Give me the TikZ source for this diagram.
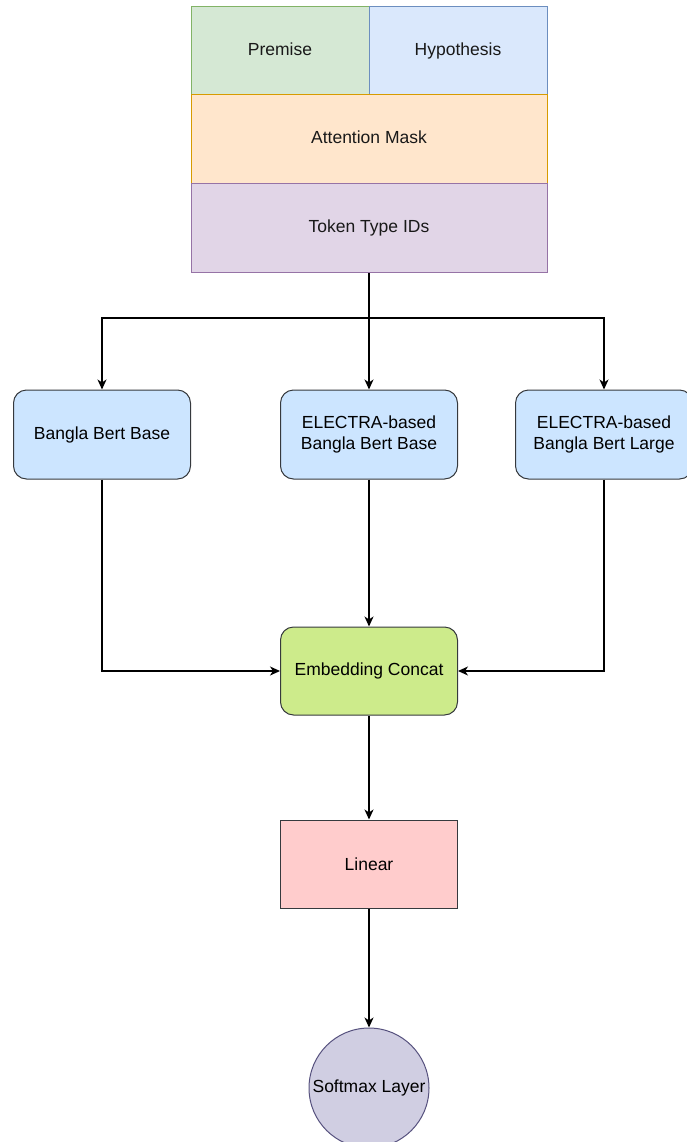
\documentclass[tikz,border=0pt]{standalone}
\usepackage{fontspec}
\setmainfont{Liberation Sans}
\usepackage{xcolor}
\usepackage{tikz}
\usetikzlibrary{positioning,shapes.geometric,arrows.meta}
\pgfdeclarelayer{nodelayer}
\pgfdeclarelayer{edgelayer}
\pgfsetlayers{main,edgelayer,nodelayer}
\definecolor{premFill}{HTML}{D5E8D4}\definecolor{premLine}{HTML}{82B366}
\definecolor{hypFill}{HTML}{DAE8FC}\definecolor{hypLine}{HTML}{6C8EBF}
\definecolor{maskFill}{HTML}{FFE6CC}\definecolor{maskLine}{HTML}{D79B00}
\definecolor{tokFill}{HTML}{E1D5E7}\definecolor{tokLine}{HTML}{9673A6}
\definecolor{modelFill}{HTML}{CCE5FF}\definecolor{boxLine}{HTML}{36393D}
\definecolor{catFill}{HTML}{CDEB8B}
\definecolor{linFill}{HTML}{FFCCCC}\definecolor{linLine}{HTML}{36393D}
\definecolor{smFill}{HTML}{D0CEE2}\definecolor{smLine}{HTML}{56517E}
\tikzstyle{input_cell}=[rectangle, line width=1pt, outer sep=0pt, inner sep=0pt, text height=12.5pt, text depth=3.5pt, text=black!90, font=\fontsize{17.5}{21}\selectfont]
\tikzstyle{model_box}=[rectangle, rounded corners=13pt, draw=boxLine, fill=modelFill, line width=1pt, minimum width=177pt, minimum height=89pt, align=center, font=\fontsize{17.5}{21}\selectfont]
\tikzstyle{flow}=[-, draw=black, line width=1.3pt]
\tikzstyle{flowArrow}=[-{Stealth[length=10pt,width=9pt,inset=3pt]}, draw=black, line width=1.3pt]

\begin{document}
\begin{tikzpicture}[x=1pt, y=-1pt]
        \useasboundingbox (0,0) rectangle (686,1142);
        \begin{pgfonlayer}{nodelayer}
            % inputs
            \node [style=input_cell, draw=premLine, fill=premFill, minimum width=178pt, minimum height=88pt] (prem) at (280, 51) {Premise};
            \node [style=input_cell, draw=hypLine, fill=hypFill, minimum width=178pt, minimum height=88pt, right=0pt of prem] (hyp) {Hypothesis};
            \node [style=input_cell, draw=maskLine, fill=maskFill, minimum width=356pt, minimum height=89pt, below=0pt of prem.south east] (mask) {Attention Mask};
            \node [style=input_cell, draw=tokLine, fill=tokFill, minimum width=356pt, minimum height=88pt, below=0pt of mask] (tok) {Token Type IDs};

            % models
            \node [style=model_box] (bbb) at (102, 434.5) {Bangla Bert Base};
            \node [style=model_box] (ebb) at (369, 434.5) {ELECTRA-based\\Bangla Bert Base};
            \node [style=model_box] (ebl) at (604, 434.5) {ELECTRA-based\\Bangla Bert Large};

            \node [style=model_box, fill=catFill, minimum height=88pt] (concat) at (369, 671) {Embedding Concat};
            \node [style=model_box, rounded corners=0pt, draw=linLine, fill=linFill, minimum height=88pt, below=104pt of concat] (linear) {Linear};
            \node [circle, draw=smLine, fill=smFill, line width=1pt, inner sep=0pt, minimum size=120pt, font=\fontsize{17.5}{21}\selectfont, below=119pt of linear] (softmax) {Softmax Layer};
        \end{pgfonlayer}
        \begin{pgfonlayer}{edgelayer}
                \coordinate (split) at (369, 318);
                \draw [style={flow}] (tok.south) to (split);
                \draw [style={flowArrow}] (split) -| (bbb.north);
                \draw [style={flowArrow}] (split) to (ebb.north);
                \draw [style={flowArrow}] (split) -| (ebl.north);

                \draw [style={flowArrow}] (bbb.south) |- (concat.west);
                \draw [style={flowArrow}] (ebb.south) to (concat.north);
                \draw [style={flowArrow}] (ebl.south) |- (concat.east);

                \draw [style={flowArrow}] (concat.south) to (linear.north);
                \draw [style={flowArrow}] (linear.south) to (softmax.north);
        \end{pgfonlayer}
    \end{tikzpicture}
\end{document}
